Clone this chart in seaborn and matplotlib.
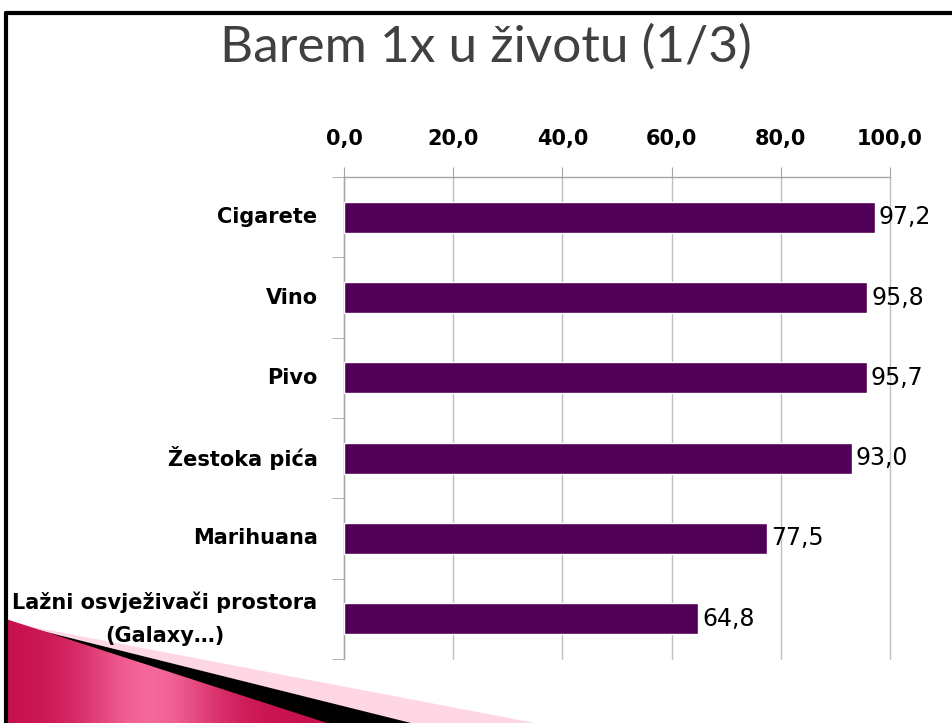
import numpy as np
import pandas as pd
import seaborn as sns
import matplotlib.pyplot as plt
from matplotlib.patches import Polygon
from matplotlib.ticker import FuncFormatter, FixedLocator
from matplotlib.colors import LinearSegmentedColormap

kategorije = ['Cigarete', 'Vino', 'Pivo', 'Žestoka pića', 'Marihuana',
              'Lažni osvježivači prostora\n(Galaxy…)']
vrijednosti = [97.2, 95.8, 95.7, 93.0, 77.5, 64.8]
x_ticks = [0, 20, 40, 60, 80, 100]
naslov = 'Barem 1x u životu (1/3)'

df = pd.DataFrame({'kat': kategorije, 'val': vrijednosti})

sns.set_style('white')
plt.rcParams['font.family'] = ['DejaVu Sans']

W, H = 953, 723
fig = plt.figure(figsize=(W / 100, H / 100), dpi=100)
ax = fig.add_axes([344 / W, 1 - 659 / H, (890 - 344) / W, (659 - 177) / H])
ax.set_zorder(2)
ax.patch.set_alpha(0)

sns.barplot(data=df, x='val', y='kat', orient='h', color='#500057',
            width=0.39, saturation=1, ax=ax, zorder=3)

# vrijednosti uz stupce
ax.bar_label(ax.containers[0], labels=[f'{v:.1f}'.replace('.', ',') for v in vrijednosti],
             padding=3, fontsize=17, color='black')

ax.set_xlim(0, 100)
ax.set_ylim(len(kategorije) - 0.5, -0.5)
ax.xaxis.tick_top()
ax.set_xticks(x_ticks)
ax.xaxis.set_major_formatter(FuncFormatter(lambda v, p: f'{v:.1f}'.replace('.', ',')))
ax.tick_params(axis='x', length=7, color='#A6A6A6', pad=13, labelsize=15, labelcolor='black')
for t in ax.get_xticklabels():
    t.set_fontweight('bold')
ax.grid(axis='x', color='#BFBFBF', linewidth=1, zorder=0)
for gl in ax.get_xgridlines():
    gl.set_clip_on(False)

ax.yaxis.set_minor_locator(FixedLocator(np.arange(-0.5, len(kategorije), 1)))
ax.tick_params(axis='y', which='major', length=0, pad=19, labelsize=15, labelcolor='black')
ax.tick_params(axis='y', which='minor', length=9, color='#A6A6A6', left=True)
for t in ax.get_yticklabels():
    t.set_horizontalalignment('right')
    t.set_verticalalignment('center')
    t.set_multialignment('center')
    t.set_fontweight('bold')
    t.set_linespacing(1.85)
ax.set_xlabel('')
ax.set_ylabel('')

for s in ['right', 'bottom']:
    ax.spines[s].set_visible(False)
for s in ['left', 'top']:
    ax.spines[s].set_color('#A6A6A6')
    ax.spines[s].set_linewidth(1)

# naslov
fig.text(486 / W, 1 - 47 / H, naslov, ha='center', va='center', fontsize=37,
         color='#404040', family=['Liberation Sans Narrow', 'Lato', 'DejaVu Sans'])

# okvir slajda
fig.add_artist(plt.Line2D([6 / W, 1], [1 - 13 / H, 1 - 13 / H], color='black', lw=3,
                          transform=fig.transFigure, zorder=3))
fig.add_artist(plt.Line2D([6 / W, 6 / W], [0, 1 - 13 / H], color='black', lw=3,
                          transform=fig.transFigure, zorder=3))

# ukras dolje lijevo (ispod teksta)
def px(pts):
    return [(x / W, 1 - y / H) for x, y in pts]

grad_ax = fig.add_axes([0, 0, 1, 1])
grad_ax.set_axis_off()
grad_ax.set_zorder(1)
grad_ax.set_xlim(0, 1)
grad_ax.set_ylim(0, 1)
grad_ax.add_patch(Polygon(px([(6, 622), (535, 723), (6, 723)]), closed=True,
                          facecolor='#FFD6E3', edgecolor='none', zorder=1))
grad_ax.add_patch(Polygon(px([(6, 622), (411, 723), (6, 723)]), closed=True,
                          facecolor='black', edgecolor='none', zorder=2))
mag = Polygon(px([(6, 619), (327, 723), (6, 723)]), closed=True,
              facecolor='none', edgecolor='none', zorder=3)
grad_ax.add_patch(mag)
g = np.linspace(0, 1, 256)
gg = np.exp(-((g - 0.45) / 0.22) ** 2)[None, :]
cm = LinearSegmentedColormap.from_list('m', ['#C8104F', '#F4679A'])
img = grad_ax.imshow(gg, extent=[6 / W, 327 / W, 0, 1 - 619 / H], cmap=cm,
                     aspect='auto', zorder=4)
img.set_clip_path(mag)
grad_ax.set_xlim(0, 1)
grad_ax.set_ylim(0, 1)

fig.savefig('out.png', dpi=100)
